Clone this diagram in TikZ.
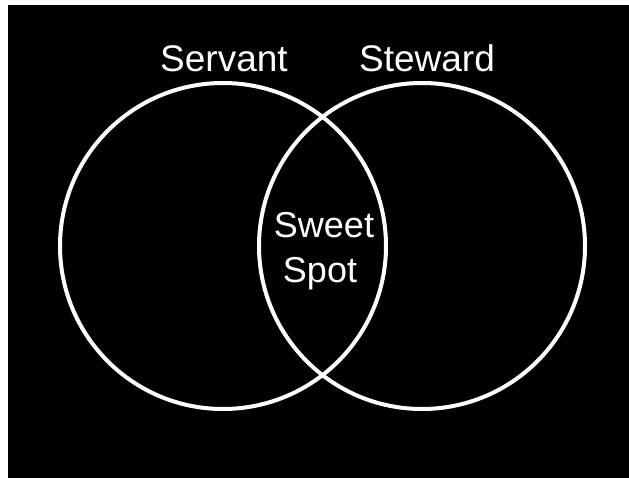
\documentclass[tikz,border=0pt]{standalone}
\usepackage{fontspec}
\setmainfont{Liberation Sans}
\begin{document}
\begin{tikzpicture}[x=1pt,y=-1pt,
  ring/.style={draw=white,line width=4pt,circle,minimum size=326pt,inner sep=0pt},
  title/.style={text=white,font=\fontsize{37}{44}\selectfont,inner sep=0pt,anchor=base},
  mid/.style={text=white,font=\fontsize{36}{45}\selectfont,inner sep=0pt,anchor=base}]
\useasboundingbox[fill=white] (0,0) rectangle (629,478);
\fill[black] (8,5) rectangle (629,478);
\node[ring] (servantc) at (223,246) {};
\node[ring] (stewardc) at (422,246) {};
\node[title] (servant) at (224,72) {Servant};
\node[title] (steward) at (427,72) {Steward};
\node[mid] (sweet) at (324,238) {Sweet};
\node[mid] (spot) at (320,283) {Spot};
\end{tikzpicture}
\end{document}
